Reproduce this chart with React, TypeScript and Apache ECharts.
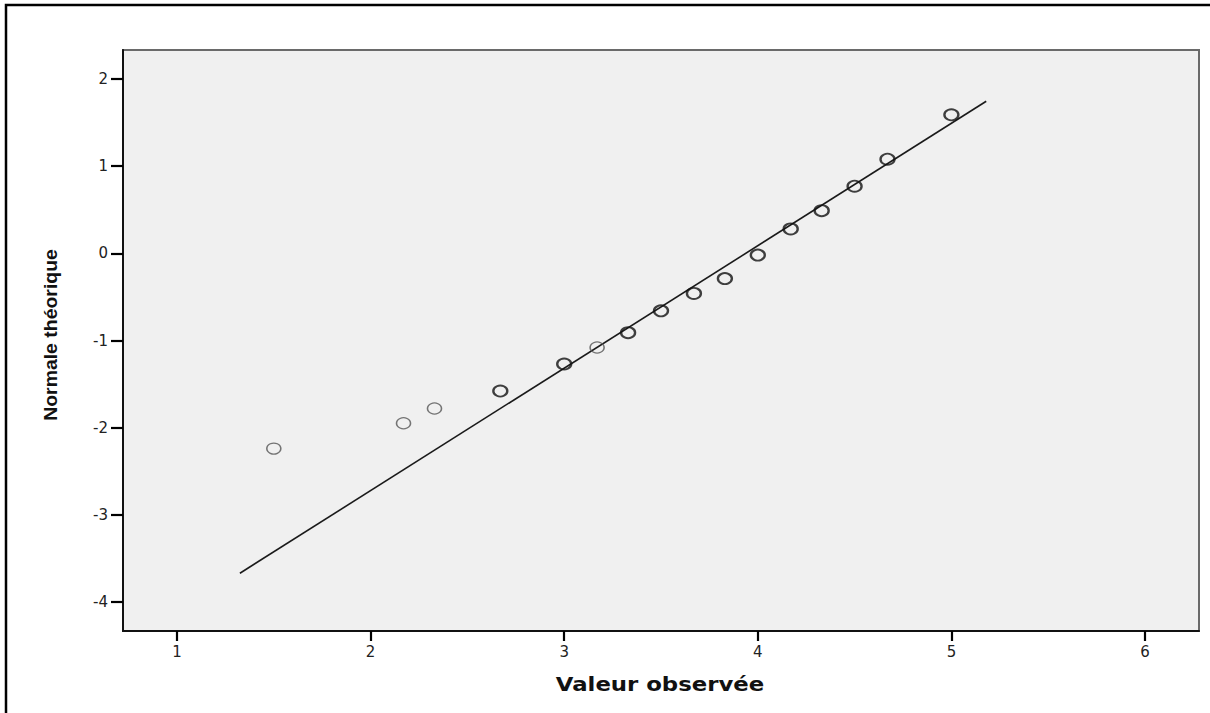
import React, { useEffect, useRef } from "react";
import * as echarts from "echarts";

// Observed values (x) and theoretical normal quantiles (y)
const observed = [1.5, 2.17, 2.33, 2.67, 3.0, 3.17, 3.33, 3.5, 3.67, 3.83, 4.0, 4.17, 4.33, 4.5, 4.67, 5.0];
const theoretical = [-2.24, -1.95, -1.78, -1.58, -1.27, -1.08, -0.91, -0.66, -0.46, -0.29, -0.02, 0.28, 0.49, 0.77, 1.08, 1.59];

// Reference line end points
const refLineX = [1.325, 5.18];
const refLineY = [-3.67, 1.745];

// Axis ranges and tick labels
const xRange = [0.721, 6.279];
const yRange = [-4.333, 2.333];
const xTicks = [1, 2, 3, 4, 5, 6];
const yTicks = [-4, -3, -2, -1, 0, 1, 2];

const xTitle = "Valeur observée";
const yTitle = "Normale théorique";

// indices drawn with the lighter stroke (style only)
const lightPoints = [0, 1, 2, 5];

export default function App() {
  const ref = useRef<HTMLDivElement>(null);

  useEffect(() => {
    document.body.style.margin = "0";
    if (!ref.current) return;
    const chart = echarts.init(ref.current, undefined, { renderer: "svg" });

    // main plot box
    const gL = 123, gT = 50, gW = 1076, gH = 581;
    const pxX = gW / (xRange[1] - xRange[0]);
    const pxY = gH / (yRange[1] - yRange[0]);
    const xFirst = xTicks[0], xLast = xTicks[xTicks.length - 1];
    const yFirst = yTicks[0], yLast = yTicks[yTicks.length - 1];
    // tick grid aligned exactly on first/last tick values
    const tL = gL + (xFirst - xRange[0]) * pxX;
    const tW = (xLast - xFirst) * pxX;
    const tT = gT + (yRange[1] - yLast) * pxY;
    const tH = (yLast - yFirst) * pxY;
    const offX = tL - gL;
    const offY = gT + gH - (tT + tH);

    const scatterData = observed.map((x, i) => {
      const light = lightPoints.indexOf(i) >= 0;
      return {
        value: [x, theoretical[i]],
        itemStyle: {
          color: "rgba(0,0,0,0)",
          borderColor: light ? "#555" : "#111",
          borderWidth: light ? 1.4 : 2.1,
        },
      };
    });

    const lineData = refLineX.map((x, i) => [x, refLineY[i]]);

    const labelStyle = {
      fontFamily: "DejaVu Sans",
      fontSize: 15,
      color: "#222",
    };
    const axisLineStyle = { color: "#111", width: 2 };
    const tickStyle = { color: "#000", width: 2.2 };

    const option: any = {
      animation: false,
      backgroundColor: "#ffffff",
      grid: [
        {
          left: gL,
          top: gT,
          width: gW,
          height: gH,
          show: true,
          backgroundColor: "#f0f0f0",
          borderColor: "#6a6a6a",
          borderWidth: 2,
        },
        {
          left: tL,
          top: tT,
          width: tW,
          height: tH,
          show: false,
        },
      ],
      xAxis: [
        {
          type: "value",
          gridIndex: 0,
          min: xRange[0],
          max: xRange[1],
          axisLine: { show: true, onZero: false, lineStyle: axisLineStyle },
          axisTick: { show: false },
          axisLabel: { show: false },
          splitLine: { show: false },
        },
        {
          type: "value",
          gridIndex: 1,
          min: xFirst,
          max: xLast,
          interval: 1,
          offset: offY,
          axisLine: { show: true, onZero: false, lineStyle: axisLineStyle },
          axisTick: { show: true, length: 10, lineStyle: tickStyle },
          axisLabel: { ...labelStyle, margin: 13 },
          splitLine: { show: false },
        },
      ],
      yAxis: [
        {
          type: "value",
          gridIndex: 0,
          min: yRange[0],
          max: yRange[1],
          axisLine: { show: true, onZero: false, lineStyle: axisLineStyle },
          axisTick: { show: false },
          axisLabel: { show: false },
          splitLine: { show: false },
        },
        {
          type: "value",
          gridIndex: 1,
          min: yFirst,
          max: yLast,
          interval: 1,
          offset: offX,
          axisLine: { show: true, onZero: false, lineStyle: axisLineStyle },
          axisTick: { show: true, length: 12, lineStyle: tickStyle },
          axisLabel: { ...labelStyle, margin: 15 },
          splitLine: { show: false },
        },
      ],
      series: [
        {
          type: "line",
          xAxisIndex: 0,
          yAxisIndex: 0,
          data: lineData,
          symbol: "none",
          lineStyle: { color: "#1a1a1a", width: 1.6 },
          z: 2,
        },
        {
          type: "scatter",
          xAxisIndex: 0,
          yAxisIndex: 0,
          data: scatterData,
          symbol: "circle",
          symbolSize: [14, 11],
          z: 3,
        },
      ],
      graphic: [
        {
          type: "rect",
          shape: { x: 6, y: 5, width: 1400, height: 900 },
          style: { fill: "none", stroke: "#000", lineWidth: 2.5 },
          silent: true,
        },
        {
          type: "text",
          x: 660,
          y: 685,
          scaleX: 1.2,
          style: {
            text: xTitle,
            fontFamily: "DejaVu Sans",
            fontWeight: "bold",
            fontSize: 19,
            fill: "#111",
            align: "center",
            verticalAlign: "middle",
          },
        },
        {
          type: "text",
          x: 51,
          y: 335,
          rotation: Math.PI / 2,
          scaleX: 1.08,
          style: {
            text: yTitle,
            fontFamily: "Liberation Sans",
            fontWeight: "bold",
            fontSize: 18,
            fill: "#111",
            align: "center",
            verticalAlign: "middle",
          },
        },
      ],
    };

    chart.setOption(option);
    return () => chart.dispose();
  }, []);

  return <div ref={ref} style={{ width: 1210, height: 713 }} />;
}
